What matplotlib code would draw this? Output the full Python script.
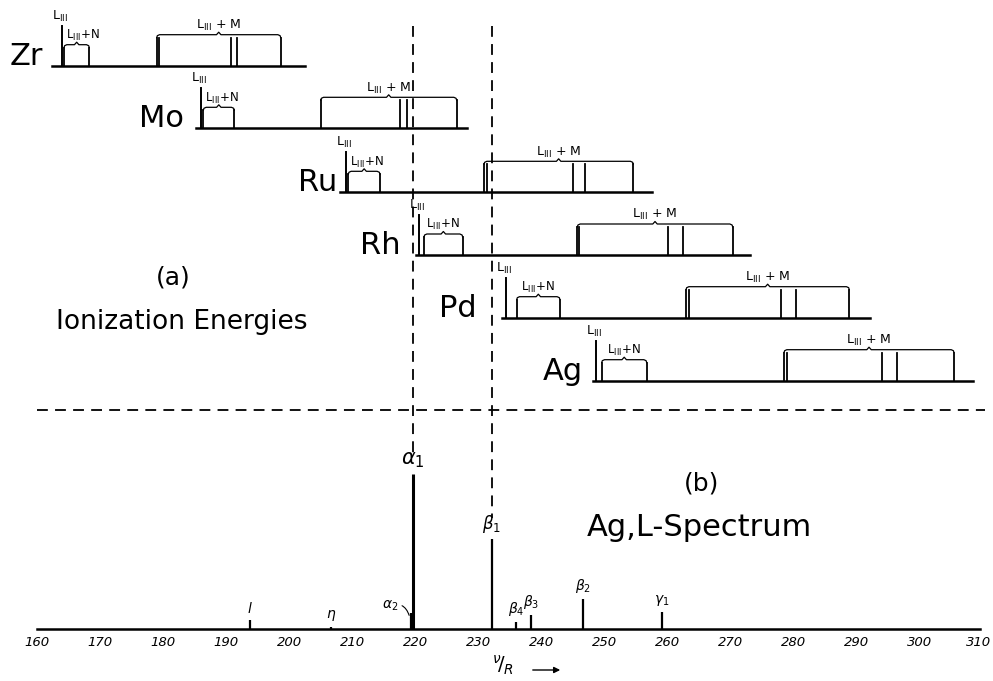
import matplotlib
matplotlib.use('Agg')
import matplotlib.pyplot as plt
from matplotlib.transforms import ScaledTranslation

# ---------------- data (values in nu/R) ----------------
elements = ['Zr', 'Mo', 'Ru', 'Rh', 'Pd', 'Ag']
L3_edge = [163.96, 186.04, 208.98, 220.64, 234.39, 248.60]
LN_lines = [[164.33, 168.34], [186.41, 191.32], [209.39, 214.41],
            [221.39, 227.52], [236.08, 242.94], [249.55, 256.69]]
LM_lines = [[179.02, 179.43, 190.80, 191.70, 198.68],
            [205.02, 217.58, 218.65, 226.57],
            [230.90, 231.42, 244.96, 246.91, 254.56],
            [245.69, 246.00, 260.11, 262.39, 270.32],
            [262.92, 263.35, 277.93, 280.35, 288.80],
            [278.45, 278.88, 293.94, 296.31, 305.40]]
row_start = [162.43, 185.25, 208.07, 220.12, 233.70, 248.22]
row_end = [202.53, 228.16, 257.48, 273.06, 292.08, 308.45]

spec_names = [r'$l$', r'$\eta$', r'$\alpha_2$', r'$\alpha_1$', r'$\beta_1$',
              r'$\beta_4$', r'$\beta_3$', r'$\beta_2$', r'$\gamma_1$']
spec_pos = [193.81, 206.65, 219.28, 219.65, 232.12, 235.97, 238.30, 246.64, 259.07]
spec_int = [5.8, 1.3, 10.3, 100, 58, 4.5, 8.8, 19.3, 11]
xticks = list(range(160, 311, 10))

# ---------------- layout ----------------
W, H = 993, 681
PX_PER_UNIT = 6.309
X0_PX = 36.7          # pixel of 160
def px2d(px):
    return 160 + (px - X0_PX) / PX_PER_UNIT
xlim = (px2d(0), px2d(W))

row_y = [65.7, 128.3, 192.3, 255.0, 317.7, 380.7]     # layout (pixel rows)
name_gap = [1.4, 2.0, 0.5, 2.5, 4.0, 1.6]               # gap name -> row start

base_px = 629.0
top_px = 440.0
px_per_int = 1.553

fig = plt.figure(figsize=(W / 100, H / 100), dpi=100)
fig.patch.set_facecolor('white')

# spectrum axes
ax_s = fig.add_axes([0, (H - base_px) / H, 1, (base_px - top_px) / H])
ax_s.set_xlim(*xlim)
ax_s.set_ylim(0, (base_px - top_px) / px_per_int)
ax_s.patch.set_alpha(0)
for s in ['top', 'left', 'right']:
    ax_s.spines[s].set_visible(False)
ax_s.spines['bottom'].set_bounds(160, 309.5)
ax_s.spines['bottom'].set_linewidth(1.8)
ax_s.set_yticks([])
ax_s.set_xticks(xticks)
labels = ax_s.set_xticklabels([str(t) for t in xticks], fontsize=9.5, fontstyle='italic')
ax_s.tick_params(axis='x', length=0, pad=5)
labels[-1].set_horizontalalignment('right')
labels[-1].set_transform(labels[-1].get_transform() +
                         ScaledTranslation(8 / 100, 0, fig.dpi_scale_trans))

for name, x, v in zip(spec_names, spec_pos, spec_int):
    lw = 2.2 if v >= 90 else 1.6
    ax_s.vlines(x, 0, v, colors='k', lw=lw)
    fs = 15 if v >= 90 else (12 if v >= 50 else 10)
    if name == r'$\alpha_2$':
        ax_s.annotate(name, (x - 0.25, v - 1.5), xytext=(-8, 7), textcoords='offset points',
                      ha='right', va='center', fontsize=fs,
                      arrowprops=dict(arrowstyle='-', lw=0.8, color='k',
                                      connectionstyle='arc3,rad=-0.5', shrinkA=1, shrinkB=0))
    else:
        ax_s.annotate(name, (x, v), xytext=(0, 3), textcoords='offset points',
                      ha='center', va='bottom', fontsize=fs)

# overlay axes in pixel-row layout
ax = fig.add_axes([0, 0, 1, 1])
ax.set_xlim(*xlim)
ax.set_ylim(H, 0)
ax.patch.set_alpha(0)
ax.axis('off')

curl = 0.45
def brace(x0, x1, yb):
    xc = (x0 + x1) / 2
    xs = [x0, x0 + 0.1, x0 + curl, xc - 0.35, xc, xc + 0.35, x1 - curl, x1 - 0.1, x1]
    ys = [yb, yb - 2.0, yb - 3, yb - 3, yb - 5.5, yb - 3, yb - 3, yb - 2.0, yb]
    ax.plot(xs, ys, color='k', lw=0.9, solid_capstyle='round')
    return xc, yb - 5.5

for i, el in enumerate(elements):
    yb = row_y[i]
    ax.plot([row_start[i], row_end[i]], [yb, yb], color='k', lw=1.8)
    # L_III edge
    ax.plot([L3_edge[i]] * 2, [yb, yb - 40], color='k', lw=1.4)
    ax.text(L3_edge[i] - 0.3, yb - 42, r'L$_{\rm III}$', fontsize=9, ha='center', va='bottom')
    # L_III + N
    n = LN_lines[i]
    for x in n:
        ax.plot([x, x], [yb, yb - 18], color='k', lw=1.3)
    xc, yt = brace(n[0], n[-1], yb - 18)
    xl = max(xc, L3_edge[i] + 3.3)
    ax.text(xl, yt + 1, r'L$_{\rm III}$+N', fontsize=8.5, ha='center', va='bottom')
    # L_III + M
    m = LM_lines[i]
    for x in m:
        ax.plot([x, x], [yb, yb - 28], color='k', lw=1.3)
    xc, yt = brace(m[0], m[-1], yb - 28)
    ax.text(xc, yt + 1, r'L$_{\rm III}$ + M', fontsize=9, ha='center', va='bottom')
    # element name
    ax.text(row_start[i] - name_gap[i], yb - 1, el, fontsize=22, ha='right', va='baseline')

# dashed guide lines
alpha1 = spec_pos[spec_names.index(r'$\alpha_1$')]
beta1 = spec_pos[spec_names.index(r'$\beta_1$')]
dash = dict(color='k', lw=1.3, linestyle=(0, (6, 4)))
ax.plot([alpha1, alpha1], [26, 455], **dash)
ax.plot([beta1, beta1], [26, 518], **dash)
ax.plot([160, px2d(985)], [410, 410], **dash)

# texts
ax.text(px2d(173), 278, '(a)', fontsize=18, ha='center', va='center')
ax.text(px2d(182), 322, 'Ionization Energies', fontsize=19, ha='center', va='center')
ax.text(px2d(702), 483, '(b)', fontsize=18, ha='center', va='center')
ax.text(px2d(699), 528, 'Ag,L-Spectrum', fontsize=22, ha='center', va='center')

# axis label
ax.text(px2d(503), 665, r'$^{\nu}\!/_{R}$', fontsize=14, ha='center', va='center')
ax.annotate('', xy=(px2d(563), 670), xytext=(px2d(530), 670),
            arrowprops=dict(arrowstyle='-|>', lw=1.0, color='k', mutation_scale=9))

fig.savefig('out.png', dpi=100, facecolor='white')
